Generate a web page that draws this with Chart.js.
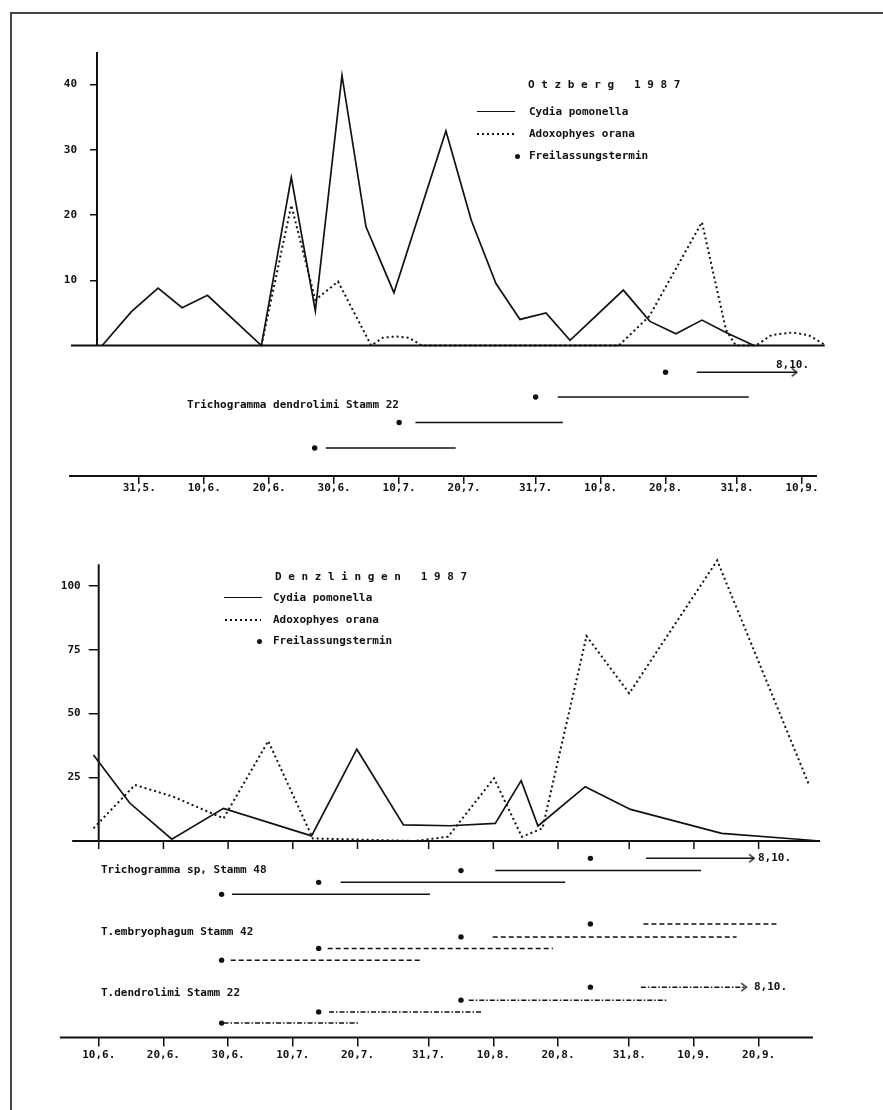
<!DOCTYPE html>
<html>
<head>
<meta charset="utf-8">
<script src="https://cdn.jsdelivr.net/npm/chart.js@4.4.0/dist/chart.umd.min.js"></script>
<style>
  body { margin: 0; background: #fff; }
  #seite { position: relative; width: 883px; height: 1110px; overflow: hidden; font-family: "DejaVu Sans Mono", monospace; font-size: 11px; font-weight: bold; color: #111; }
  #rahmen { position: absolute; left: 10px; top: 12px; width: 900px; height: 1200px; border-top: 2px solid #444; border-left: 2px solid #444; }
  canvas { position: absolute; left: 0; }
  .txt { position: absolute; line-height: 14px; white-space: pre; }
  .strich { position: absolute; height: 0; border-top: 1.6px solid #111; }
  .punkte { position: absolute; height: 2px; background: repeating-linear-gradient(to right, #111 0 2px, transparent 2px 5px); }
  .dot { position: absolute; width: 5px; height: 5px; border-radius: 50%; background: #111; }
</style>
</head>
<body>
<div id="seite">
  <div id="rahmen"></div>
  <canvas id="otzberg" width="883" height="520" style="top:0"></canvas>
  <canvas id="denzlingen" width="883" height="560" style="top:530px"></canvas>

  <!-- Otzberg: Titel und Legende -->
  <div class="txt" style="left:528px;top:78px">O t z b e r g   1 9 8 7</div>
  <div class="strich" style="left:477px;top:111px;width:38px"></div>
  <div class="txt" style="left:529px;top:105px">Cydia pomonella</div>
  <div class="punkte" style="left:477px;top:133px;width:38px"></div>
  <div class="txt" style="left:529px;top:127px">Adoxophyes orana</div>
  <div class="dot" style="left:515px;top:154px"></div>
  <div class="txt" style="left:529px;top:149px">Freilassungstermin</div>
  <div class="txt" style="left:187px;top:398px">Trichogramma dendrolimi Stamm 22</div>
  <div class="txt" style="left:776px;top:358px">8,10.</div>

  <!-- Denzlingen: Titel und Legende -->
  <div class="txt" style="left:275px;top:570px">D e n z l i n g e n   1 9 8 7</div>
  <div class="strich" style="left:224px;top:597px;width:38px"></div>
  <div class="txt" style="left:273px;top:591px">Cydia pomonella</div>
  <div class="punkte" style="left:225px;top:619px;width:36px"></div>
  <div class="txt" style="left:273px;top:613px">Adoxophyes orana</div>
  <div class="dot" style="left:257px;top:639px"></div>
  <div class="txt" style="left:273px;top:634px">Freilassungstermin</div>
  <div class="txt" style="left:101px;top:863px">Trichogramma sp, Stamm 48</div>
  <div class="txt" style="left:101px;top:925px">T.embryophagum Stamm 42</div>
  <div class="txt" style="left:101px;top:986px">T.dendrolimi Stamm 22</div>
  <div class="txt" style="left:758px;top:851px">8,10.</div>
  <div class="txt" style="left:754px;top:980px">8,10.</div>
</div>

<script>
// Zeitachse in Tagen des Jahres 1987 (31.5. = Tag 151).

// Otzberg 1987 – Fänge
const otzCydiaTage = [145.3, 149.8, 153.9, 157.6, 161.5, 169.8, 174.4, 178.1, 182.2, 185.9, 190.2, 198.2, 202.1, 205.9, 209.6, 213.6, 217.3, 225.5, 229.6, 233.6, 237.6, 241.3, 245.6];
const otzCydia = [0, 5.2, 8.8, 5.8, 7.7, 0, 25.8, 5.3, 41.4, 18.2, 8.1, 32.9, 19.2, 9.5, 4, 5, 0.8, 8.5, 3.7, 1.8, 3.9, 2, 0];
const otzAdoxTage = [169.8, 174.4, 178.1, 181.6, 186.7, 188.5, 190.5, 192.5, 194.5, 224.8, 229.5, 237.6, 241.3, 242.8, 245.9, 248.3, 251.5, 254, 256.7];
const otzAdox = [0, 21.5, 7, 9.8, 0, 1.2, 1.4, 1.2, 0, 0, 4.5, 18.9, 2.4, 0, 0, 1.6, 2, 1.6, 0];

// Otzberg – Freilassungen Trichogramma dendrolimi Stamm 22
const otzFreilassung = [178, 191, 212, 232];
const otzZeile = [-15.7, -11.8, -7.9, -4.1];
const otzBeginn = [179.7, 193.5, 215.4, 236.8];
const otzEnde = [199.7, 216.2, 244.8, 252.2];
const otzPfeil = [false, false, false, true];

// Otzberg – Achsen
const otzTickTage = [151, 161, 171, 181, 191, 201, 212, 222, 232, 243, 253];
const otzTickLabels = ['31,5.', '10,6.', '20,6.', '30,6.', '10,7.', '20,7.', '31,7.', '10,8.', '20,8.', '31,8.', '10,9.'];
const otzYTicks = [10, 20, 30, 40];

// Denzlingen 1987 – Fänge
const denCydiaTage = [160.2, 165.8, 172.3, 180.3, 193.9, 200.9, 208.1, 215.3, 222.3, 226.3, 228.9, 236.2, 243.2, 257.3, 269.1, 272.5];
const denCydia = [33.7, 14.9, 0.7, 12.8, 2, 36, 6.3, 6, 6.9, 23.7, 5.9, 21.3, 12.4, 3, 0.7, 0];
const denAdoxTage = [160.2, 166.6, 172.5, 180.3, 187.2, 194.1, 209.9, 215, 222.1, 226.4, 229.6, 236.4, 243, 256.6, 270.8];
const denAdox = [5, 22, 17.4, 8.9, 39.2, 1, 0, 1.7, 24.6, 1.7, 5, 80.4, 57.9, 110, 22];

// Denzlingen – Freilassungen (für alle drei Stämme gleich)
const denFreilassung = [180, 195, 217, 237];
const st48Zeile = [-20.9, -16.2, -11.6, -6.8];
const st48Beginn = [181.6, 198.4, 222.3, 245.6];
const st48Ende = [212.2, 233.1, 254.1, 262.3];
const st48Pfeil = [false, false, false, true];
const st42Zeile = [-46.7, -42.1, -37.6, -32.5];
const st42Beginn = [181.4, 196.4, 221.9, 245.2];
const st42Ende = [210.7, 231.2, 259.6, 265.8];
const st42Pfeil = [false, false, false, false];
const st22Zeile = [-71.4, -67, -62.4, -57.3];
const st22Beginn = [180.3, 196.6, 218.2, 244.8];
const st22Ende = [201.2, 220.1, 248.8, 261.1];
const st22Pfeil = [false, false, false, true];

// Denzlingen – Achsen
const denTickTage = [161, 171, 181, 191, 201, 212, 222, 232, 243, 253, 263];
const denTickLabels = ['10,6.', '20,6.', '30,6.', '10,7.', '20,7.', '31,7.', '10,8.', '20,8.', '31,8.', '10,9.', '20,9.'];
const denYTicks = [25, 50, 75, 100];

const schwarz = '#111';
Chart.defaults.font.family = '"DejaVu Sans Mono", monospace';
Chart.defaults.font.size = 11;
Chart.defaults.font.weight = 'bold';
Chart.defaults.color = schwarz;

// Pfeilspitze ">" als Punktsymbol, Spitze liegt in der Bildmitte.
function machePfeilspitze() {
  const c = document.createElement('canvas');
  c.width = 14;
  c.height = 14;
  const g = c.getContext('2d');
  g.strokeStyle = schwarz;
  g.lineWidth = 1.4;
  g.beginPath();
  g.moveTo(2, 3);
  g.lineTo(7, 7);
  g.lineTo(2, 11);
  g.stroke();
  return c;
}
const pfeilspitze = machePfeilspitze();

function punkte(tage, werte) {
  return tage.map((t, i) => ({x: t, y: werte[i]}));
}

// Eine Zeile des Freilassungsschemas (Wirkungsdauer als Strich).
function zeitraum(beginn, ende, y, dash, pfeil) {
  return {
    data: [{x: beginn, y: y}, {x: ende, y: y}],
    borderColor: schwarz,
    borderWidth: 1.5,
    borderDash: dash,
    pointRadius: c => (pfeil && c.dataIndex === 1) ? 4 : 0,
    pointStyle: c => (pfeil && c.dataIndex === 1) ? pfeilspitze : 'circle',
    clip: false
  };
}

function zeitraeume(beginn, ende, zeilen, pfeile, dash) {
  return beginn.map((b, i) => zeitraum(b, ende[i], zeilen[i], dash, pfeile[i]));
}

function freilassungen(tage, zeilen) {
  return {
    data: tage.map((t, i) => ({x: t, y: zeilen[i]})),
    showLine: false,
    pointRadius: 2.7,
    pointBackgroundColor: schwarz,
    pointBorderWidth: 0,
    clip: false
  };
}

function fangLinie(tage, werte, gepunktet) {
  return {
    data: punkte(tage, werte),
    borderColor: schwarz,
    borderWidth: gepunktet ? 2 : 1.7,
    borderDash: gepunktet ? [2, 3] : [],
    pointRadius: 0,
    clip: false
  };
}

// Achsenlinien: Nulllinie, y-Achse ab 0 und Datumsachse unten.
const achsenPlugin = {
  id: 'achsen',
  afterDatasetsDraw(chart, args, o) {
    const {ctx, scales: {x, y}} = chart;
    const linie = (x1, y1, x2, y2) => {
      ctx.beginPath();
      ctx.moveTo(x1, y1);
      ctx.lineTo(x2, y2);
      ctx.stroke();
    };
    ctx.save();
    ctx.strokeStyle = schwarz;
    ctx.lineWidth = 2;
    const y0 = y.getPixelForValue(0);
    linie(x.getPixelForValue(o.nullVon), y0, x.getPixelForValue(o.nullBis), y0);
    const xa = x.getPixelForValue(x.min);
    linie(xa, y0, xa, y.getPixelForValue(o.yOben));
    const yu = y.getPixelForValue(y.min);
    linie(x.getPixelForValue(o.achseVon), yu, x.getPixelForValue(o.achseBis), yu);
    if (o.nullStriche) {
      ctx.lineWidth = 1.5;
      x.ticks.forEach(t => {
        const px = x.getPixelForValue(t.value);
        linie(px, y0, px, y0 + 8);
      });
    }
    ctx.restore();
  }
};

function baueDiagramm(id, datasets, s) {
  return new Chart(document.getElementById(id), {
    type: 'line',
    data: {datasets: datasets},
    options: {
      responsive: false,
      animation: false,
      events: [],
      layout: {padding: s.padding},
      plugins: {
        legend: {display: false},
        tooltip: {enabled: false},
        achsen: s.achsen
      },
      scales: {
        x: {
          type: 'linear',
          min: s.xMin,
          max: s.xMax,
          afterFit: a => { a.height = 30; },
          afterBuildTicks: a => { a.ticks = s.xTicks.map(v => ({value: v})); },
          ticks: {autoSkip: false, maxRotation: 0, padding: s.xPadding, callback: (v, i) => s.xLabels[i]},
          grid: {drawOnChartArea: false, tickLength: s.xTickLength, color: schwarz, lineWidth: 1.5},
          border: {display: false}
        },
        y: {
          type: 'linear',
          min: s.yMin,
          max: s.yMax,
          afterFit: a => { a.width = 40; },
          afterBuildTicks: a => { a.ticks = s.yTicks.map(v => ({value: v})); },
          ticks: {padding: s.yPadding},
          grid: {drawOnChartArea: false, tickLength: s.yTickLength, color: schwarz, lineWidth: 1.5},
          border: {display: false}
        }
      }
    },
    plugins: [achsenPlugin]
  });
}

// Otzberg 1987
baueDiagramm('otzberg', [
  fangLinie(otzCydiaTage, otzCydia, false),
  fangLinie(otzAdoxTage, otzAdox, true),
  ...zeitraeume(otzBeginn, otzEnde, otzZeile, otzPfeil, []),
  freilassungen(otzFreilassung, otzZeile)
], {
  padding: {left: 57, right: 55, top: 52, bottom: 14},
  xMin: 144.5, xMax: 257,
  yMin: -20, yMax: 45,
  xTicks: otzTickTage, xLabels: otzTickLabels,
  yTicks: otzYTicks,
  xPadding: -2, xTickLength: 8,
  yPadding: 13, yTickLength: 7,
  achsen: {nullVon: 140.5, nullBis: 256.5, yOben: 45, achseVon: 140.2, achseBis: 255.3, nullStriche: false}
});

// Denzlingen 1987
baueDiagramm('denzlingen', [
  fangLinie(denCydiaTage, denCydia, false),
  fangLinie(denAdoxTage, denAdox, true),
  ...zeitraeume(st48Beginn, st48Ende, st48Zeile, st48Pfeil, []),
  ...zeitraeume(st42Beginn, st42Ende, st42Zeile, st42Pfeil, [5, 3]),
  ...zeitraeume(st22Beginn, st22Ende, st22Zeile, st22Pfeil, [5, 2, 1.5, 2]),
  freilassungen(denFreilassung, st48Zeile),
  freilassungen(denFreilassung, st42Zeile),
  freilassungen(denFreilassung, st22Zeile)
], {
  padding: {left: 58.7, right: 59.7, top: 25.4, bottom: 22.6},
  xMin: 161, xMax: 273,
  yMin: -77, yMax: 112,
  xTicks: denTickTage, xLabels: denTickLabels,
  yTicks: denYTicks,
  xPadding: 2, xTickLength: 9,
  yPadding: 8, yTickLength: 10,
  achsen: {nullVon: 156.9, nullBis: 272.5, yOben: 108.5, achseVon: 155, achseBis: 271.4, nullStriche: true}
});
</script>
</body>
</html>
